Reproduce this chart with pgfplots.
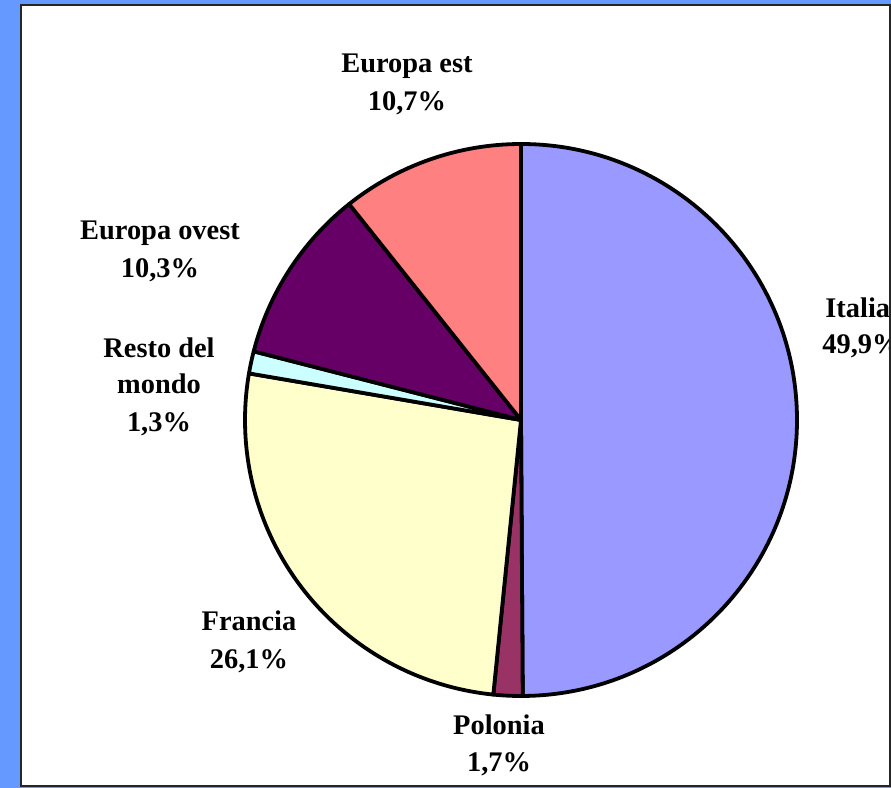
\documentclass[border=0pt]{standalone}
\usepackage{pgfplots}
\pgfplotsset{compat=1.18}
\usepackage{fontspec}
\setmainfont{Liberation Serif}
\definecolor{bgblue}{HTML}{6699FF}
\definecolor{cIt}{HTML}{9999FF}
\definecolor{cPl}{HTML}{993366}
\definecolor{cFr}{HTML}{FFFFCC}
\definecolor{cRm}{HTML}{CCFFFF}
\definecolor{cEo}{HTML}{660066}
\definecolor{cEe}{HTML}{FF8080}
\begin{document}
\begin{tikzpicture}
\begin{axis}[x=0.5pt,y=0.5pt,xmin=0,xmax=891,ymin=0,ymax=788,
  hide axis,clip=false,scale only axis]
\fill[bgblue] (axis cs:0,0) rectangle (axis cs:891,788);
\filldraw[fill=white,draw=black!85,line width=1pt] (axis cs:21,2) rectangle (axis cs:890,783);
\xdef\startang{90}
\foreach \v/\c in {49.9/cIt,1.7/cPl,26.1/cFr,1.3/cRm,10.3/cEo,10.7/cEe}{
  \pgfmathsetmacro\endang{\startang-3.6*\v}
  \pgfmathsetmacro\sx{521+276*cos(\startang)}
  \pgfmathsetmacro\sy{368+276*sin(\startang)}
  \edef\temp{\noexpand\filldraw[fill=\c,draw=black,line width=1.9pt,line join=round]
    (axis cs:521,368) -- (axis cs:\sx,\sy) arc[start angle=\startang,end angle=\endang,radius=138pt] -- cycle;}
  \temp
  \xdef\startang{\endang}
}
\tikzset{lab/.style={anchor=base,inner sep=0pt,font=\bfseries\fontsize{14.2}{17}\selectfont}}
\node[lab] at (axis cs:407,715) {Europa est};
\node[lab] at (axis cs:407,677) {10,7\%};
\node[lab] at (axis cs:160,548) {Europa ovest};
\node[lab] at (axis cs:160,510) {10,3\%};
\node[lab] at (axis cs:159,430) {Resto del};
\node[lab] at (axis cs:159,394) {mondo};
\node[lab] at (axis cs:159,356) {1,3\%};
\node[lab,overlay,anchor=base west] at (axis cs:825,470) {Italia};
\node[lab,overlay,anchor=base west] at (axis cs:822,434) {49,9\%};
\node[lab] at (axis cs:249,157) {Francia};
\node[lab] at (axis cs:249,119) {26,1\%};
\node[lab] at (axis cs:499,53) {Polonia};
\node[lab] at (axis cs:499,16) {1,7\%};
\draw[black!85,line width=1pt] (axis cs:890,2) -- (axis cs:890,783);
\end{axis}
\end{tikzpicture}
\end{document}
